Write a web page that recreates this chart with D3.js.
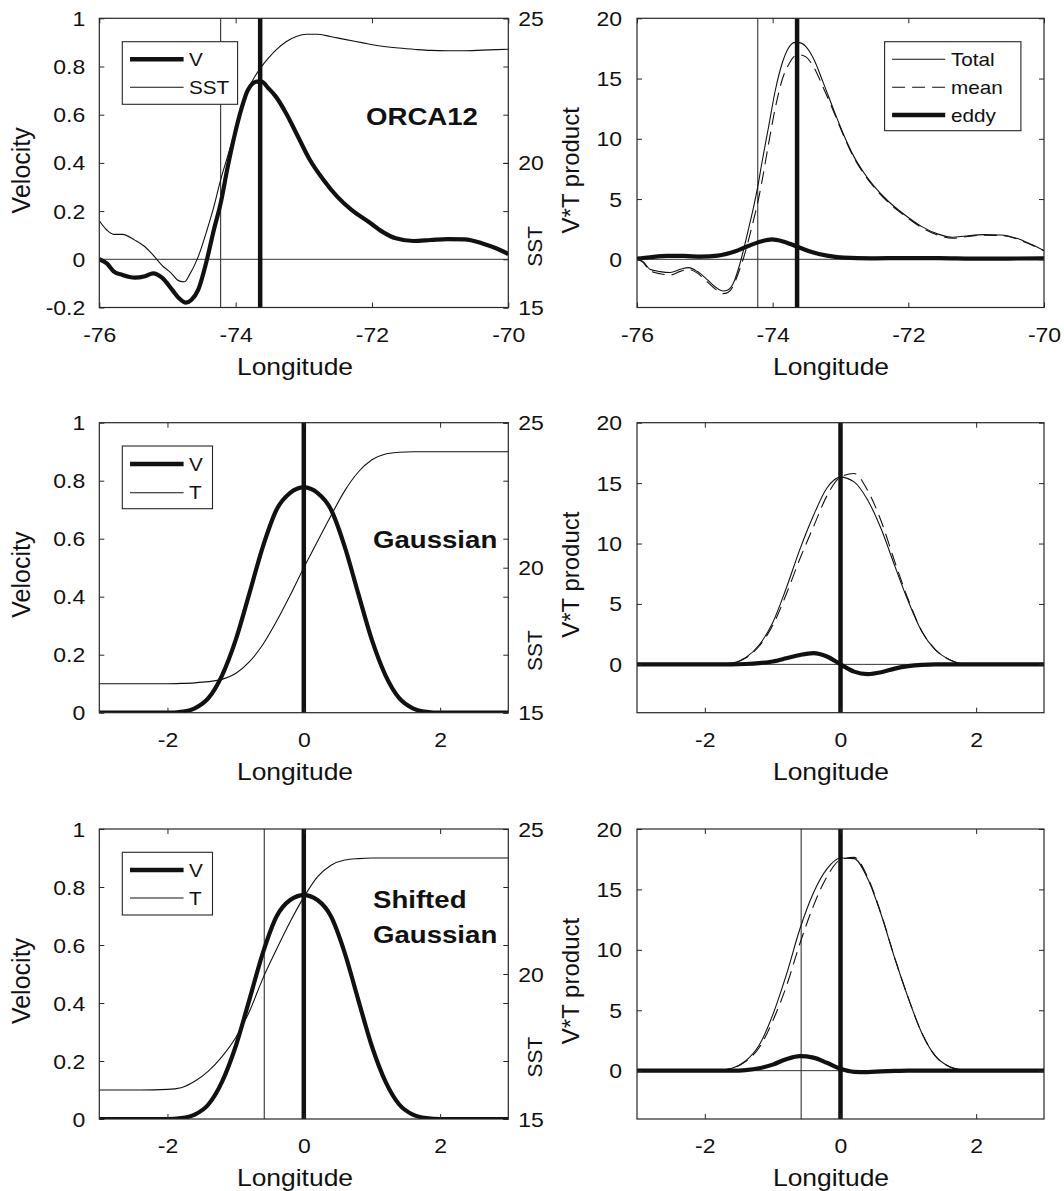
<!DOCTYPE html>
<html><head><meta charset="utf-8">
<script src="https://cdn.jsdelivr.net/npm/d3@7"></script>
<style>body{margin:0;background:#fff}</style>
</head><body><svg id="c" width="1064" height="1191"></svg>
<script>
// ---------------- DATA ----------------
// ORCA12 velocity (left axis) and SST (right axis)
const orcaVLon = [-76, -75.89, -75.79, -75.66, -75.48, -75.33, -75.21, -75.08, -74.93, -74.83, -74.73, -74.65, -74.55, -74.42, -74.32, -74.22, -74.12, -74.02, -73.92, -73.82, -73.69, -73.62, -73.52, -73.41, -73.26, -73.11, -72.91, -72.71, -72.51, -72.30, -72.05, -71.85, -71.65, -71.39, -71.14, -70.89, -70.64, -70.38, -70.18, -70.0];
const orcaV = [0.0, -0.017, -0.05, -0.065, -0.076, -0.07, -0.058, -0.076, -0.127, -0.162, -0.18, -0.169, -0.127, 0.0, 0.122, 0.232, 0.378, 0.509, 0.62, 0.703, 0.737, 0.737, 0.71, 0.675, 0.606, 0.523, 0.412, 0.329, 0.26, 0.205, 0.156, 0.115, 0.087, 0.076, 0.08, 0.084, 0.083, 0.066, 0.046, 0.022];
const orcaSLon = [-76, -75.89, -75.79, -75.66, -75.48, -75.33, -75.21, -75.08, -74.95, -74.83, -74.75, -74.68, -74.55, -74.42, -74.32, -74.22, -74.12, -74.02, -73.92, -73.82, -73.72, -73.62, -73.52, -73.41, -73.26, -73.11, -72.96, -72.81, -72.61, -72.40, -72.15, -71.90, -71.65, -71.39, -71.14, -70.89, -70.64, -70.38, -70.0];
const orcaSST = [18.0, 17.68, 17.53, 17.53, 17.33, 17.1, 16.81, 16.46, 16.2, 15.92, 15.89, 16.12, 16.75, 17.68, 18.48, 19.41, 20.21, 21.02, 21.83, 22.53, 22.98, 23.33, 23.62, 23.9, 24.19, 24.37, 24.45, 24.45, 24.37, 24.27, 24.16, 24.05, 23.98, 23.93, 23.89, 23.88, 23.88, 23.9, 23.93];
// ORCA12 V*T products
const orcaPLon = [-76.0, -75.91, -75.81, -75.66, -75.51, -75.36, -75.24, -75.11, -74.96, -74.84, -74.73, -74.66, -74.58, -74.51, -74.43, -74.36, -74.28, -74.22, -74.16, -74.06, -73.96, -73.86, -73.76, -73.68, -73.61, -73.51, -73.40, -73.25, -73.10, -72.95, -72.80, -72.65, -72.50, -72.30, -72.05, -71.80, -71.55, -71.35, -71.15, -70.89, -70.64, -70.39, -70.19, -70.0];
const orcaTotal = [0, -0.19, -0.83, -1.02, -1.1, -0.83, -0.69, -1.02, -1.71, -2.32, -2.63, -2.54, -1.99, -0.89, 0.77, 2.43, 4.37, 6.03, 7.97, 11.0, 14.05, 16.27, 17.6, 17.98, 17.98, 17.65, 16.68, 14.6, 12.4, 10.3, 8.5, 7.14, 6.03, 4.84, 3.68, 2.71, 2.07, 1.83, 1.94, 2.05, 2.02, 1.72, 1.24, 0.72];
const orcaMean = [0, -0.25, -0.95, -1.2, -1.3, -1.0, -0.85, -1.15, -1.9, -2.5, -2.85, -2.75, -2.2, -1.2, 0.1, 1.5, 3.3, 4.7, 6.4, 9.6, 12.6, 14.9, 16.2, 16.85, 16.97, 16.8, 16.0, 14.2, 12.25, 10.2, 8.4, 7.05, 5.95, 4.75, 3.6, 2.62, 1.98, 1.75, 1.87, 2.0, 1.98, 1.68, 1.2, 0.7];
const orcaEddyLon = [-76.0, -75.81, -75.56, -75.31, -75.06, -74.81, -74.56, -74.36, -74.16, -74.01, -73.86, -73.66, -73.45, -73.20, -72.95, -72.55, -72.05, -71.55, -71.05, -70.54, -70.0];
const orcaEddy = [0.05, 0.17, 0.28, 0.28, 0.22, 0.3, 0.64, 1.1, 1.5, 1.65, 1.5, 1.1, 0.65, 0.3, 0.14, 0.08, 0.1, 0.1, 0.06, 0.06, 0.08];
const orcaThin = -74.22, orcaThick = -73.64;

// Idealised cases (shared longitude grid)
const gx = [-3, -2.4, -2, -1.8, -1.6, -1.4, -1.2, -1.0, -0.8, -0.6, -0.4, -0.2, 0, 0.2, 0.4, 0.6, 0.8, 1.0, 1.2, 1.4, 1.6, 1.8, 2, 2.4, 3];
const gaussV = [0, 0, 0, 0.003, 0.015, 0.05, 0.128, 0.25, 0.41, 0.573, 0.7, 0.758, 0.777, 0.758, 0.7, 0.573, 0.41, 0.25, 0.128, 0.05, 0.015, 0.003, 0, 0, 0];
const gaussT = [16, 16, 16, 16.01, 16.03, 16.07, 16.15, 16.35, 16.75, 17.35, 18.15, 19.05, 20.0, 20.9, 21.8, 22.65, 23.3, 23.72, 23.92, 23.98, 24, 24, 24, 24, 24];
const gaussTotal = [0, 0, 0, 0.02, 0.1, 0.55, 1.6, 3.45, 6.3, 9.5, 12.3, 14.6, 15.5, 15.1, 13.6, 11.2, 8.15, 5.2, 2.7, 1.2, 0.4, 0.05, 0, 0, 0];
const gaussMean = [0, 0, 0, 0.02, 0.1, 0.52, 1.5, 3.21, 5.8, 8.72, 11.37, 13.95, 15.5, 15.8, 14.4, 11.85, 8.5, 5.35, 2.74, 1.2, 0.4, 0.05, 0, 0, 0];
const gaussEddy = [0, 0, 0, 0, 0, 0.03, 0.1, 0.24, 0.5, 0.78, 0.93, 0.65, 0.0, -0.6, -0.8, -0.65, -0.35, -0.15, -0.04, 0, 0, 0, 0, 0, 0];
const gaussThick = 0;

const shiftV = [0, 0, 0, 0.003, 0.015, 0.05, 0.128, 0.25, 0.41, 0.573, 0.698, 0.755, 0.772, 0.755, 0.698, 0.573, 0.41, 0.25, 0.128, 0.05, 0.015, 0.003, 0, 0, 0];
const shiftT = [16, 16, 16.02, 16.08, 16.3, 16.65, 17.15, 17.8, 18.7, 19.85, 20.85, 21.8, 22.65, 23.35, 23.75, 23.93, 23.98, 24, 24, 24, 24, 24, 24, 24, 24];
const shiftTotal = [0, 0, 0, 0.02, 0.2, 0.8, 2.1, 4.6, 7.9, 11.7, 14.7, 16.7, 17.6, 17.55, 15.9, 12.9, 9.3, 6.0, 3.1, 1.2, 0.35, 0.07, 0, 0, 0];
const shiftMean = [0, 0, 0, 0.02, 0.2, 0.75, 1.9, 4.1, 6.95, 10.5, 13.62, 16.05, 17.45, 17.65, 16.02, 12.96, 9.32, 6.0, 3.1, 1.2, 0.35, 0.07, 0, 0, 0];
const shiftEddy = [0, 0, 0, 0, 0, 0.05, 0.2, 0.5, 0.95, 1.2, 1.08, 0.65, 0.15, -0.1, -0.12, -0.06, -0.02, 0, 0, 0, 0, 0, 0, 0, 0];
const shiftThin = -0.58, shiftThick = 0;

// Tick labels
const orcaXTicks = [-76, -74, -72, -70];
const gaussXTicks = [-2, 0, 2];
const velTicksOrca = [-0.2, 0, 0.2, 0.4, 0.6, 0.8, 1];
const velTicks = [0, 0.2, 0.4, 0.6, 0.8, 1];
const sstTicks = [15, 20, 25];
const prodTicks = [0, 5, 10, 15, 20];

// ---------------- DRAWING ----------------
const S = 1.15;
const FONT = '"Liberation Sans", Arial, Helvetica, sans-serif';
const AX = '#262626';
const INK = '#111';
const DASH = '13,7';
const svg = d3.select('#c');
const colL = [99.3, 508.3], colR = [637, 1044];
const rows = [[18.3, 307.5], [422.7, 712.7], [829, 1119]];
let clipN = 0;

function zip(a, b) { return a.map((v, i) => [v, b[i]]); }

function styleAxis(a) {
  a.attr('font-family', FONT).attr('font-size', 20);
  a.select('.domain').remove();
  a.selectAll('.tick line').attr('stroke', AX).attr('stroke-width', 1);
  a.selectAll('.tick text').attr('fill', INK);
}

function hText(g, x, y, txt, size, anchor, weight) {
  return g.append('text').attr('transform', `translate(${x},${y}) scale(${S},1)`)
    .attr('font-family', FONT).attr('font-size', size).attr('text-anchor', anchor || 'start')
    .attr('font-weight', weight || 'normal').attr('fill', INK).text(txt);
}
function vText(g, x, y, txt, size) {
  return g.append('text').attr('transform', `translate(${x},${y}) rotate(-90)`)
    .attr('font-family', FONT).attr('font-size', size).attr('text-anchor', 'middle')
    .attr('fill', INK).text(txt);
}

function axesBox(g, x, y, xTicks, yTicks, x0, x1, y0, y1, yLabelGap) {
  g.append('g').attr('transform', `translate(0,${y1})`)
    .call(d3.axisBottom(x).tickValues(xTicks).tickSizeInner(-5).tickSizeOuter(0).tickFormat(d => String(d)))
    .call(styleAxis)
    .call(a => a.selectAll('.tick text').attr('y', null).attr('dy', null)
      .attr('transform', `translate(0,34) scale(${S},1)`));
  g.append('g').attr('transform', `translate(0,${y0})`)
    .call(d3.axisTop(x).tickValues(xTicks).tickSizeInner(-5).tickSizeOuter(0).tickFormat(''))
    .call(styleAxis);
  g.append('g').attr('transform', `translate(${x0},0)`)
    .call(d3.axisLeft(y).tickValues(yTicks).tickSizeInner(-5).tickSizeOuter(0).tickFormat(d => String(d)))
    .call(styleAxis)
    .call(a => a.selectAll('.tick text').attr('x', null).attr('dy', null)
      .attr('transform', `translate(${-yLabelGap},7) scale(${S},1)`));
  g.append('g').attr('transform', `translate(${x1},0)`)
    .call(d3.axisRight(y).tickValues(yTicks).tickSizeInner(-5).tickSizeOuter(0).tickFormat(''))
    .call(styleAxis);
  g.append('rect').attr('x', x0).attr('y', y0).attr('width', x1 - x0).attr('height', y1 - y0)
    .attr('fill', 'none').attr('stroke', AX).attr('stroke-width', 1.2);
}

function clipFor(g, x0, x1, y0, y1) {
  const id = 'clip' + (clipN++);
  svg.append('clipPath').attr('id', id).append('rect')
    .attr('x', x0).attr('y', y0).attr('width', x1 - x0).attr('height', y1 - y0);
  return g.append('g').attr('clip-path', `url(#${id})`);
}

function vline(g, x, y0, y1, xv, w, col) {
  g.append('line').attr('x1', x(xv)).attr('x2', x(xv)).attr('y1', y0).attr('y2', y1)
    .attr('stroke', col || INK).attr('stroke-width', w);
}
function hline(g, y, x0, x1, yv) {
  g.append('line').attr('x1', x0).attr('x2', x1).attr('y1', y(yv)).attr('y2', y(yv))
    .attr('stroke', '#333').attr('stroke-width', 1);
}
function curve(g, x, y, pts, w, dash) {
  const line = d3.line().x(d => x(d[0])).y(d => y(d[1])).curve(d3.curveMonotoneX);
  const p = g.append('path').attr('d', line(pts)).attr('fill', 'none')
    .attr('stroke', INK).attr('stroke-width', w).attr('stroke-linejoin', 'round');
  if (dash) p.attr('stroke-dasharray', dash);
}

function legend(g, bx0, by0, bx1, by1, lx0, lx1, tx, entries) {
  g.append('rect').attr('x', bx0).attr('y', by0).attr('width', bx1 - bx0).attr('height', by1 - by0)
    .attr('fill', '#fff').attr('stroke', AX).attr('stroke-width', 1.1);
  entries.forEach(e => {
    const l = g.append('line').attr('x1', lx0).attr('x2', lx1).attr('y1', e.y).attr('y2', e.y)
      .attr('stroke', INK).attr('stroke-width', e.w);
    if (e.dash) l.attr('stroke-dasharray', e.dash);
    hText(g, tx, e.y + 6.5, e.label, 18, 'start');
  });
}

function leftPanel(r, cfg) {
  const [x0, x1] = colL, [y0, y1] = rows[r];
  const g = svg.append('g');
  const x = d3.scaleLinear().domain(cfg.xDomain).range([x0, x1]);
  const y = d3.scaleLinear().domain(cfg.vDomain).range([y1, y0]);
  const yT = d3.scaleLinear().domain([15, 25]).range([y1, y0]);
  const c = clipFor(g, x0, x1, y0, y1);
  if (cfg.zero) hline(c, y, x0, x1, 0);
  if (cfg.thin != null) vline(c, x, y0, y1, cfg.thin, 1.1, '#333');
  curve(c, x, yT, cfg.tPts, 1.1);
  curve(c, x, y, cfg.vPts, 4.2);
  vline(c, x, y0, y1, cfg.thick, 4.5);
  axesBox(g, x, y, cfg.xTicks, cfg.vTicks, x0, x1, y0, y1, 14);
  // SST right axis
  g.append('g').attr('transform', `translate(${x1},0)`)
    .call(d3.axisRight(yT).tickValues(sstTicks).tickSizeInner(-5).tickSizeOuter(0).tickFormat(d => String(d)))
    .call(styleAxis)
    .call(a => a.selectAll('.tick text').attr('x', null).attr('dy', null)
      .attr('transform', `translate(10,7) scale(${S},1)`));
  vText(g, 30, y0 + 152, 'Velocity', 25);
  vText(g, 542, y0 + 228, 'SST', 21);
  hText(g, 295, y1 + 67, 'Longitude', 23, 'middle');
  legend(g, 122.3, cfg.lg[0], cfg.lg[1], cfg.lg[2], 130, 183.6, 189,
    [{ label: 'V', y: cfg.lg[3], w: 4.5 }, { label: cfg.tName, y: cfg.lg[4], w: 1.1 }]);
  cfg.title.forEach((t, i) => hText(g, cfg.titleX, cfg.titleY[i], t, 24, 'start', 'bold'));
}

function rightPanel(r, cfg) {
  const [x0, x1] = colR, [y0, y1] = rows[r];
  const g = svg.append('g');
  const x = d3.scaleLinear().domain(cfg.xDomain).range([x0, x1]);
  const y = d3.scaleLinear().domain([-4, 20]).range([y1, y0]);
  const c = clipFor(g, x0, x1, y0, y1);
  hline(c, y, x0, x1, 0);
  if (cfg.thin != null) vline(c, x, y0, y1, cfg.thin, 1.1, '#333');
  curve(c, x, y, cfg.mean, 1.1, DASH);
  curve(c, x, y, cfg.total, 1.1);
  curve(c, x, y, cfg.eddy, 4.2);
  vline(c, x, y0, y1, cfg.thick, 4.5);
  axesBox(g, x, y, cfg.xTicks, prodTicks, x0, x1, y0, y1, 15);
  vText(g, 579, y0 + 152, 'V*T product', 24);
  hText(g, 831, y1 + 67, 'Longitude', 23, 'middle');
  if (cfg.legend) {
    legend(g, 884.6, 41.7, 1020.9, 130.7, 892.1, 945.2, 951, [
      { label: 'Total', y: 59.3, w: 1.1 },
      { label: 'mean', y: 87.3, w: 1.1, dash: DASH },
      { label: 'eddy', y: 115, w: 4.5 }]);
  }
}

// Row 1: ORCA12
leftPanel(0, {
  xDomain: [-76, -70], vDomain: [-0.2, 1], xTicks: orcaXTicks, vTicks: velTicksOrca,
  vPts: zip(orcaVLon, orcaV), tPts: zip(orcaSLon, orcaSST), zero: true,
  thin: orcaThin, thick: orcaThick, tName: 'SST',
  lg: [41.7, 237.6, 104.3, 59.3, 87.3], title: ['ORCA12'], titleX: 366, titleY: [125]
});
rightPanel(0, {
  xDomain: [-76, -70], xTicks: orcaXTicks, thin: orcaThin, thick: orcaThick, legend: true,
  total: zip(orcaPLon, orcaTotal), mean: zip(orcaPLon, orcaMean), eddy: zip(orcaEddyLon, orcaEddy)
});
// Row 2: Gaussian
leftPanel(1, {
  xDomain: [-3, 3], vDomain: [0, 1], xTicks: gaussXTicks, vTicks: velTicks,
  vPts: zip(gx, gaussV), tPts: zip(gx, gaussT), zero: false,
  thin: null, thick: gaussThick, tName: 'T',
  lg: [446, 212.5, 508.7, 464, 492.7], title: ['Gaussian'], titleX: 373, titleY: [548]
});
rightPanel(1, {
  xDomain: [-3, 3], xTicks: gaussXTicks, thin: null, thick: gaussThick, legend: false,
  total: zip(gx, gaussTotal), mean: zip(gx, gaussMean), eddy: zip(gx, gaussEddy)
});
// Row 3: Shifted Gaussian
leftPanel(2, {
  xDomain: [-3, 3], vDomain: [0, 1], xTicks: gaussXTicks, vTicks: velTicks,
  vPts: zip(gx, shiftV), tPts: zip(gx, shiftT), zero: false,
  thin: shiftThin, thick: shiftThick, tName: 'T',
  lg: [852.3, 212.5, 915, 870, 898], title: ['Shifted', 'Gaussian'], titleX: 373, titleY: [908, 942.7]
});
rightPanel(2, {
  xDomain: [-3, 3], xTicks: gaussXTicks, thin: shiftThin, thick: shiftThick, legend: false,
  total: zip(gx, shiftTotal), mean: zip(gx, shiftMean), eddy: zip(gx, shiftEddy)
});
</script></body></html>
